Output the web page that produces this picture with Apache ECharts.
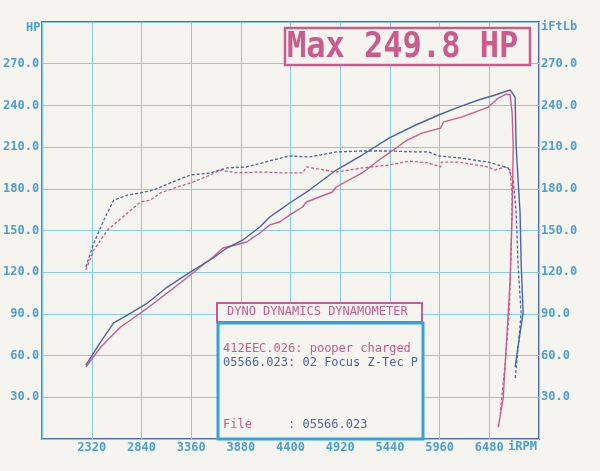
<!DOCTYPE html>
<html><head><meta charset="utf-8">
<script src="https://cdn.jsdelivr.net/npm/echarts@6/dist/echarts.min.js"></script>
<style>html,body{margin:0;padding:0;background:#f6f4ef;}#c{width:600px;height:471px;}</style>
</head><body><div id="c"></div>
<script>
// RPM / value pairs read from the sheet
const hpPink = [[2258,51.8],[2414,66.2],[2486,71.2],[2622,80.6],[2726,85.6],[2902,94.2],[3110,105],[3350,118],[3589,130.9],[3693,137.4],[3942,141.7],[4078,148.2],[4182,154],[4286,156.1],[4390,161.1],[4525,166.9],[4566,170.5],[4837,177.7],[4878,181.3],[5149,191.4],[5326,200.7],[5430,205.7],[5606,214.4],[5773,220.1],[5970,223.7],[6002,228.1],[6189,231.6],[6470,238.8],[6574,245.3],[6657,248.2],[6698,247.5],[6719,234.5],[6730,210.1],[6719,162.6],[6698,114.4],[6657,66.2],[6626,30.2],[6574,8.6]];
const hpBlue = [[2258,53.2],[2414,70],[2549,83.5],[2726,90.6],[2902,97.8],[3110,109.3],[3350,120.1],[3589,130.2],[3734,137.4],[3901,143.2],[4078,152.5],[4182,159.7],[4286,164.7],[4390,169.8],[4598,179.1],[4878,193.5],[5149,204.3],[5430,216.5],[5710,225.9],[5950,233.1],[6158,238.8],[6366,243.9],[6542,247.5],[6698,251.1],[6750,246],[6761,210],[6802,162.6],[6813,126.6],[6834,90.6],[6802,76.3],[6750,51.8]];
const tqPink = [[2258,121.6],[2341,136],[2486,150.4],[2694,162.6],[2830,170.5],[2934,171.9],[3038,177],[3214,181.3],[3381,184.9],[3558,189.9],[3662,193.5],[3838,191.4],[4078,192.1],[4358,191.4],[4525,191.4],[4566,195.7],[4878,192.1],[5149,195],[5430,197.1],[5638,199.9],[5846,198.6],[5970,195.7],[5981,199.2],[6158,199.2],[6470,195.7],[6542,193.5],[6646,195.7],[6698,193.5],[6719,174.1],[6709,138.1],[6688,90.6],[6646,54.7],[6594,18.7]];
const tqBlue = [[2258,123.7],[2341,141],[2445,157.5],[2549,171.9],[2694,175.5],[2830,177],[2965,179.1],[3142,184.2],[3350,189.9],[3558,191.4],[3734,195],[3942,195.7],[4213,200.7],[4390,203.6],[4598,202.9],[4878,206.5],[5149,207.2],[5430,207.2],[5710,206.5],[5846,206.5],[5950,203.6],[6189,202.1],[6470,199.2],[6678,195],[6730,186.3],[6761,162.6],[6782,123.7],[6813,90.6],[6782,66.2],[6750,42.4]];
const rpmMin = 1800, rpmMax = 7000, rpmStep = 520;
const valMin = 0, valMax = 300, valStep = 30;
const titleText = 'Max 249.8 HP';
const boxTitle = 'DYNO DYNAMICS DYNAMOMETER';
const line1 = '412EEC.026: pooper charged';
const line2 = '05566.023: 02 Focus Z-Tec P';
const fileLabel = 'File';
const fileValue = ': 05566.023';

const PINK = '#cc5a8c', BLUE = '#4a64a4', LBLUE = '#4a9fd8', GRID = '#86cbea', MONO = 'DejaVu Sans Mono';
const chart = echarts.init(document.getElementById('c'));
const yLab = (v) => (v <= valMin || v >= valMax) ? '' : v.toFixed(1);
chart.setOption({
  backgroundColor: '#f6f4ef',
  animation: false,
  grid: {left: 42, top: 22, right: 61, bottom: 32, show: true, borderColor: '#4f6aad', borderWidth: 2, backgroundColor: 'transparent'},
  xAxis: {type: 'value', min: rpmMin, max: rpmMax, interval: rpmStep,
    axisLine: {show: false}, axisTick: {show: false},
    splitLine: {show: true, lineStyle: {color: GRID, width: 1}},
    axisLabel: {margin: 3, color: LBLUE, fontFamily: MONO, fontSize: 12, fontWeight: 'bold',
      formatter: v => (v <= rpmMin || v >= rpmMax) ? '' : String(v)}},
  yAxis: [
    {type: 'value', min: valMin, max: valMax, interval: valStep, position: 'left',
      axisLine: {show: false}, axisTick: {show: false},
      splitLine: {show: true, lineStyle: {color: GRID, width: 1}},
      axisLabel: {margin: 3, color: LBLUE, fontFamily: MONO, fontSize: 12, fontWeight: 'bold', formatter: yLab}},
    {type: 'value', min: valMin, max: valMax, interval: valStep, position: 'right',
      axisLine: {show: false}, axisTick: {show: false}, splitLine: {show: false},
      axisLabel: {margin: 2, color: LBLUE, fontFamily: MONO, fontSize: 12, fontWeight: 'bold', formatter: yLab}}
  ],
  series: [
    {type: 'line', data: tqPink, showSymbol: false, lineStyle: {color: PINK, width: 1.3, type: [3, 2]}, z: 3},
    {type: 'line', data: tqBlue, showSymbol: false, lineStyle: {color: BLUE, width: 1.3, type: [3, 2]}, z: 3},
    {type: 'line', data: hpPink, showSymbol: false, lineStyle: {color: PINK, width: 1.4}, z: 4},
    {type: 'line', data: hpBlue, showSymbol: false, lineStyle: {color: BLUE, width: 1.4}, z: 4}
  ],
  graphic: [
    {type: 'text', z: 100, left: 26, top: 22, style: {text: 'HP', fill: LBLUE, font: 'bold 12px ' + MONO}},
    {type: 'text', z: 100, left: 541, top: 21, style: {text: 'iFtLb', fill: LBLUE, font: 'bold 12px ' + MONO}},
    {type: 'text', z: 100, left: 508, top: 441, style: {text: 'iRPM', fill: LBLUE, font: 'bold 12px ' + MONO}},
    {type: 'rect', z: 100, shape: {x: 285, y: 28, width: 245, height: 37}, style: {fill: '#f6f4ef', stroke: PINK, lineWidth: 2.5}},
    {type: 'text', z: 101, x: 287, y: 30, scaleY: 1.12, style: {text: titleText, fill: PINK, font: 'bold 32px ' + MONO}},
    {type: 'rect', z: 100, shape: {x: 217, y: 303, width: 205, height: 19}, style: {fill: '#f6f4ef', stroke: PINK, lineWidth: 2}},
    {type: 'text', z: 101, x: 227, y: 306, style: {text: boxTitle, fill: PINK, font: '12px ' + MONO}},
    {type: 'rect', z: 100, shape: {x: 218, y: 323, width: 205, height: 116}, style: {fill: '#f6f4ef', stroke: '#3aa0da', lineWidth: 3}},
    {type: 'text', z: 101, x: 223, y: 343, style: {text: line1, fill: PINK, font: '12px ' + MONO}},
    {type: 'text', z: 101, x: 223, y: 357, style: {text: line2, fill: BLUE, font: '12px ' + MONO}},
    {type: 'text', z: 101, x: 223, y: 419, style: {text: fileLabel, fill: PINK, font: '12px ' + MONO}},
    {type: 'text', z: 101, x: 288, y: 419, style: {text: fileValue, fill: BLUE, font: '12px ' + MONO}}
  ]
});
</script></body></html>
